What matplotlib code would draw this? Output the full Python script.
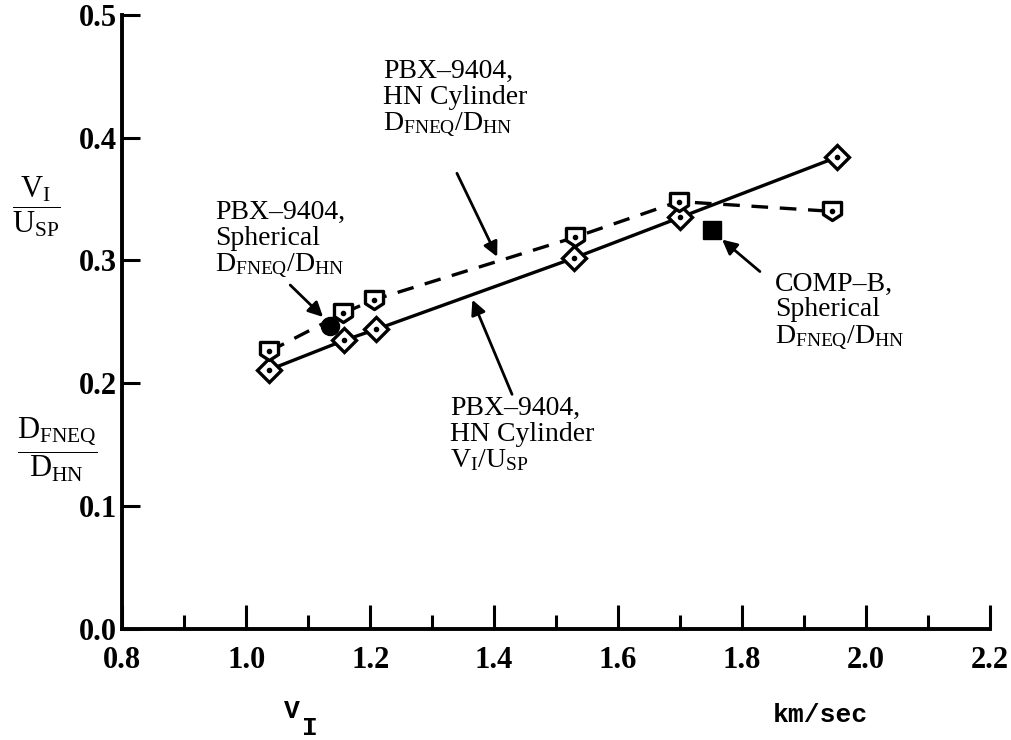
import numpy as np
import matplotlib
matplotlib.use("Agg")
import matplotlib.pyplot as plt
from matplotlib.path import Path

plt.rcParams['font.family'] = ['Liberation Serif', 'DejaVu Serif']
plt.rcParams['mathtext.fontset'] = 'custom'
plt.rcParams['mathtext.rm'] = 'Liberation Serif'
plt.rcParams['mathtext.it'] = 'Liberation Serif'
plt.rcParams['mathtext.bf'] = 'Liberation Serif:bold'

# PBX-9404 HN cylinder, V_I/U_SP (diamonds, solid line)
vi_cyl = [1.037, 1.158, 1.210, 1.529, 1.700, 1.953]
ratio_cyl = [0.211, 0.235, 0.244, 0.302, 0.335, 0.384]
# PBX-9404 HN cylinder, D_FNEQ/D_HN (shield squares, dashed line)
vi_fneq = [1.037, 1.156, 1.206, 1.531, 1.698, 1.945]
ratio_fneq = [0.226, 0.257, 0.268, 0.319, 0.348, 0.340]
# PBX-9404 spherical (filled circle)
vi_sph = [1.135]
ratio_sph = [0.247]
# COMP-B spherical (filled square)
vi_compb = [1.752]
ratio_compb = [0.325]

fig = plt.figure(figsize=(10.11, 7.40), dpi=100)
ax = fig.add_axes([0.121, 0.150, 0.858, 0.830])

shield = Path([(-1, 1), (1, 1), (1, -0.35), (0, -1), (-1, -0.35), (-1, 1)],
              [Path.MOVETO, Path.LINETO, Path.LINETO, Path.LINETO, Path.LINETO, Path.CLOSEPOLY])

ax.plot(vi_cyl, ratio_cyl, '-', color='black', lw=2.4, zorder=2)
ax.plot(vi_fneq, ratio_fneq, '--', color='black', lw=2.4, dashes=(5, 3.5), zorder=2)
ax.plot(vi_cyl, ratio_cyl, 'D', ms=12, mfc='white', mec='black', mew=2.4, zorder=3)
ax.plot(vi_fneq, ratio_fneq, marker=shield, ls='none', ms=13, mfc='white', mec='black', mew=2.4, zorder=3)
ax.plot(vi_cyl + vi_fneq, ratio_cyl + ratio_fneq, 'o', ms=3, color='black', zorder=4)
ax.plot(vi_sph, ratio_sph, 'o', ms=13, color='black', zorder=5)
ax.plot(vi_compb, ratio_compb, 's', ms=13, color='black', zorder=5)

ax.set_xlim(0.8, 2.2)
ax.set_ylim(0.0, 0.5)
for s in ['top', 'right']:
    ax.spines[s].set_visible(False)
for s in ['left', 'bottom']:
    ax.spines[s].set_linewidth(2.8)

ax.set_xticks(np.arange(0.8, 2.21, 0.2))
ax.set_xticks(np.arange(0.9, 2.2, 0.2), minor=True)
ax.set_yticks(np.arange(0.0, 0.51, 0.1))
ax.tick_params(axis='x', which='major', direction='in', length=17, width=2.2, pad=12)
ax.tick_params(axis='x', which='minor', direction='in', length=10, width=2.2)
ax.tick_params(axis='y', which='major', direction='in', length=13, width=2.2, pad=4)
ax.set_xticklabels(['%.1f' % v for v in np.arange(0.8, 2.21, 0.2)], fontsize=22, fontweight='bold')
ax.set_yticklabels(['%.1f' % v for v in np.arange(0.0, 0.51, 0.1)], fontsize=22, fontweight='bold')

txt = dict(fontsize=20, ha='left', va='top', linespacing=1.05)
ax.text(1.221, 0.464, "PBX\u20139404,\nHN Cylinder\nD$_{\\rm FNEQ}$/D$_{\\rm HN}$", **txt)
ax.text(0.950, 0.349, "PBX\u20139404,\nSpherical\nD$_{\\rm FNEQ}$/D$_{\\rm HN}$", **txt)
ax.text(1.329, 0.190, "PBX\u20139404,\nHN Cylinder\nV$_{\\rm I}$/U$_{\\rm SP}$", **txt)
ax.text(1.853, 0.291, "COMP\u2013B,\nSpherical\nD$_{\\rm FNEQ}$/D$_{\\rm HN}$", **txt)

arrow = dict(arrowstyle='-|>', color='black', lw=2, mutation_scale=22, shrinkA=0, shrinkB=0)
ax.annotate('', xy=(1.405, 0.303), xytext=(1.340, 0.371), arrowprops=arrow)
ax.annotate('', xy=(1.124, 0.254), xytext=(1.071, 0.280), arrowprops=arrow)
ax.annotate('', xy=(1.365, 0.268), xytext=(1.429, 0.191), arrowprops=arrow)
ax.annotate('', xy=(1.768, 0.317), xytext=(1.829, 0.291), arrowprops=arrow)

fig.text(0.036, 0.720, r"$\dfrac{\mathrm{V_I}}{\mathrm{U_{SP}}}$", fontsize=22, ha='center', va='center')
fig.text(0.057, 0.392, r"$\dfrac{\mathrm{D_{FNEQ}}}{\mathrm{D_{HN}}}$", fontsize=22, ha='center', va='center')

mono = dict(family='Liberation Mono', fontweight='bold', fontsize=19)
fig.text(0.289, 0.039, "V", ha='center', va='center', **mono)
fig.text(0.307, 0.016, "I", ha='center', va='center', **mono)
fig.text(0.811, 0.034, "km/sec", ha='center', va='center', **mono)

fig.savefig("out.png", dpi=100)
